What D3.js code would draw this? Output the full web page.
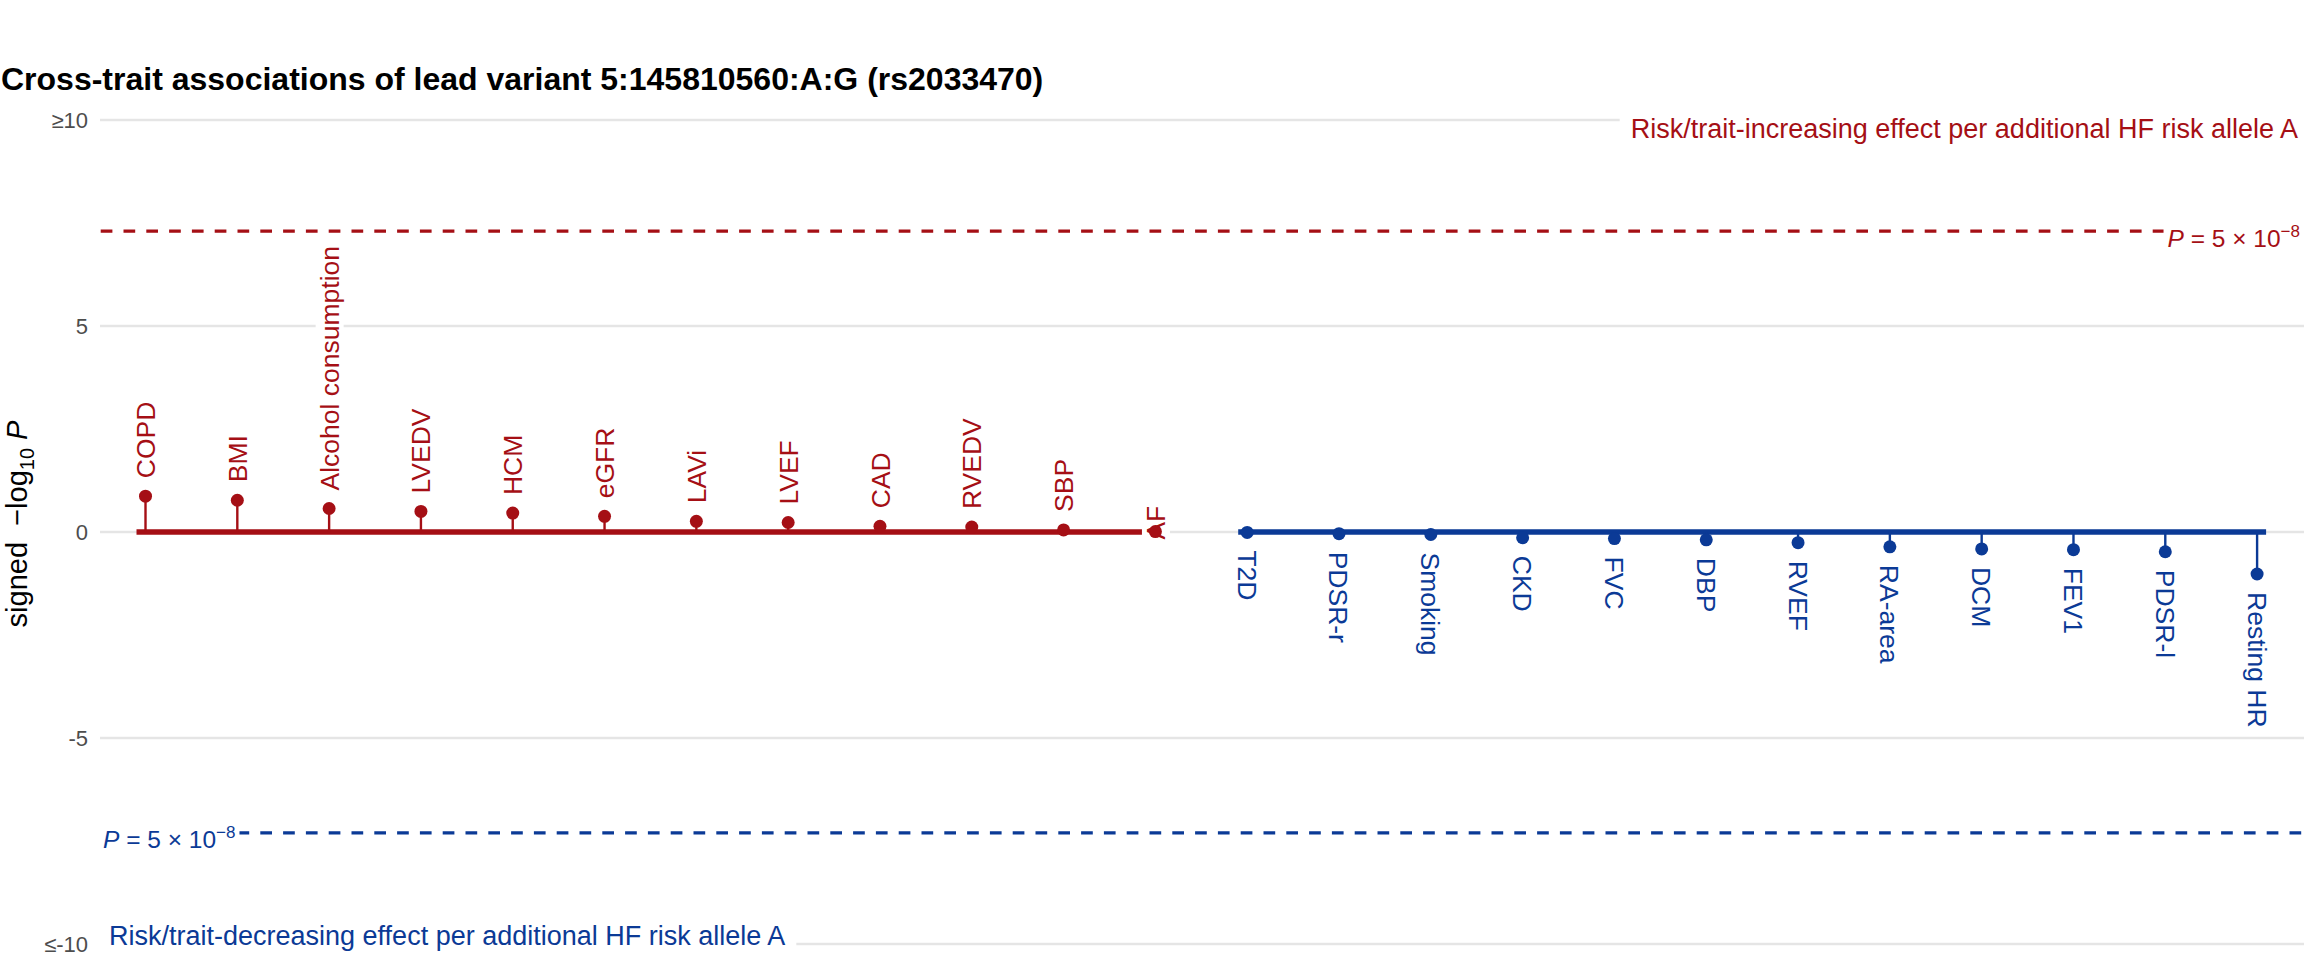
<!DOCTYPE html>
<html>
<head>
<meta charset="utf-8">
<script src="https://cdn.jsdelivr.net/npm/d3@7"></script>
<style>
  html, body { margin: 0; padding: 0; background: #fff; }
  svg { display: block; font-family: "Liberation Sans", Arial, Helvetica, sans-serif; }
</style>
</head>
<body>
<svg id="chart" width="2304" height="960"></svg>
<script>
// ---- data ----
const upTraits = ["COPD","BMI","Alcohol consumption","LVEDV","HCM","eGFR","LAVi","LVEF","CAD","RVEDV","SBP","AF"];
const upValues = [0.87,0.77,0.57,0.50,0.46,0.38,0.26,0.23,0.14,0.12,0.05,0.01];
const downTraits = ["T2D","PDSR-r","Smoking","CKD","FVC","DBP","RVEF","RA-area","DCM","FEV1","PDSR-l","Resting HR"];
const downValues = [-0.01,-0.04,-0.06,-0.14,-0.16,-0.19,-0.26,-0.36,-0.41,-0.43,-0.48,-1.02];
const yTickValues = [10, 5, 0, -5, -10];
const yTickLabels = ["\u226510", "5", "0", "-5", "\u2264-10"];
const gwsThreshold = -Math.log10(5e-8);
const titleText = "Cross-trait associations of lead variant 5:145810560:A:G (rs2033470)";
const upNote = "Risk/trait-increasing effect per additional HF risk allele A";
const downNote = "Risk/trait-decreasing effect per additional HF risk allele A";

// ---- style ----
const RED = "#A50F15", BLUE = "#0B3A96", GRID = "#E5E5E5";
const svg = d3.select("#chart");

const allTraits = upTraits.concat(downTraits);
const x = d3.scalePoint().domain(allTraits).range([99.6, 2303]).padding(0.5);
const y = d3.scaleLinear().domain([-10, 10]).range([944, 120]);

// title
svg.append("text").attr("x", 1).attr("y", 90)
  .attr("font-size", 32).attr("font-weight", "bold").attr("fill", "#000")
  .text(titleText);

// gridlines
svg.append("g").selectAll("line").data(yTickValues).join("line")
  .attr("x1", 100).attr("x2", 2304)
  .attr("y1", d => y(d)).attr("y2", d => y(d))
  .attr("stroke", GRID).attr("stroke-width", 2.7);

// y tick labels
svg.append("g").selectAll("text").data(yTickValues).join("text")
  .attr("x", 88).attr("y", d => y(d)).attr("dy", "0.36em")
  .attr("text-anchor", "end").attr("font-size", 22).attr("fill", "#4D4D4D")
  .text((d, i) => yTickLabels[i]);

// y axis title
const yt = svg.append("text").attr("transform", "translate(27,524) rotate(-90)")
  .attr("text-anchor", "middle").attr("font-size", 29).attr("fill", "#000");
yt.append("tspan").text("signed \u00A0\u2212log");
yt.append("tspan").attr("font-size", 20).attr("dy", 7).text("10");
yt.append("tspan").attr("dy", -7).text("\u00A0");
yt.append("tspan").attr("font-style", "italic").text("P");

// threshold dashed lines
[[gwsThreshold, RED], [-gwsThreshold, BLUE]].forEach(([v, c]) => {
  svg.append("line").attr("x1", 100.7).attr("x2", 2303)
    .attr("y1", y(v)).attr("y2", y(v))
    .attr("stroke", c).attr("stroke-width", 3.2)
    .attr("stroke-dasharray", "11.7,11.1");
});

// thick baseline segments
function baseSeg(traits, color) {
  svg.append("line")
    .attr("x1", x(traits[0]) - 9).attr("x2", x(traits[traits.length - 1]) + 9)
    .attr("y1", y(0)).attr("y2", y(0))
    .attr("stroke", color).attr("stroke-width", 5.5);
}
baseSeg(upTraits, RED);
baseSeg(downTraits, BLUE);

// stems
function stems(traits, values, color) {
  svg.append("g").selectAll("line").data(traits).join("line")
    .attr("x1", d => x(d)).attr("x2", d => x(d))
    .attr("y1", y(0)).attr("y2", (d, i) => y(values[i]))
    .attr("stroke", color).attr("stroke-width", 2.4);
}
stems(upTraits, upValues, RED);
stems(downTraits, downValues, BLUE);

// labels with white boxes
function labels(traits, values, color, up) {
  traits.forEach((t, i) => {
    const v = values[i];
    let start, rot;
    if (up) {
      if (Math.abs(v) < 0.03) { start = y(v) + 8; } else { start = y(v) - 18; }
      rot = -90;
    } else {
      start = y(v) + 18; rot = 90;
    }
    const g = svg.append("g").attr("transform", `translate(${x(t)},${start}) rotate(${rot})`);
    const rect = g.append("rect").attr("fill", "#fff");
    const tx = g.append("text").attr("x", 0).attr("y", 0).attr("dy", "0.36em")
      .attr("font-size", 26.5).attr("fill", color).text(t);
    const bb = tx.node().getBBox();
    rect.attr("x", bb.x - 2).attr("y", bb.y + 1).attr("width", bb.width + 4).attr("height", bb.height - 2);
  });
}
labels(upTraits, upValues, RED, true);
labels(downTraits, downValues, BLUE, false);

// dots
function dots(traits, values, color) {
  svg.append("g").selectAll("circle").data(traits).join("circle")
    .attr("cx", d => x(d)).attr("cy", (d, i) => y(values[i]))
    .attr("r", 6.5).attr("fill", color);
}
dots(upTraits, upValues, RED);
dots(downTraits, downValues, BLUE);

// annotation notes with white box
function note(txt, xx, yy, anchor, color) {
  const g = svg.append("g");
  const rect = g.append("rect").attr("fill", "#fff");
  const t = g.append("text").attr("x", xx).attr("y", yy).attr("text-anchor", anchor)
    .attr("font-size", 27).attr("fill", color).text(txt);
  const bb = t.node().getBBox();
  rect.attr("x", bb.x - 11).attr("y", bb.y).attr("width", bb.width + 22).attr("height", bb.height);
}
note(upNote, 2298, 138, "end", RED);
note(downNote, 109, 945, "start", BLUE);

// P threshold labels
function pLabel(xx, yy, anchor, color) {
  const g = svg.append("g");
  const rect = g.append("rect").attr("fill", "#fff");
  const t = g.append("text").attr("x", xx).attr("y", yy).attr("text-anchor", anchor)
    .attr("font-size", 24.5).attr("fill", color);
  t.append("tspan").attr("font-style", "italic").text("P");
  t.append("tspan").text(" = 5 \u00D7 10");
  t.append("tspan").attr("font-size", 17).attr("dy", -10).text("\u22128");
  const bb = t.node().getBBox();
  rect.attr("x", bb.x - 4).attr("y", bb.y).attr("width", bb.width + 8).attr("height", bb.height);
}
pLabel(2300, y(gwsThreshold) + 16, "end", RED);
pLabel(103, y(-gwsThreshold) + 15, "start", BLUE);
</script>
</body>
</html>
